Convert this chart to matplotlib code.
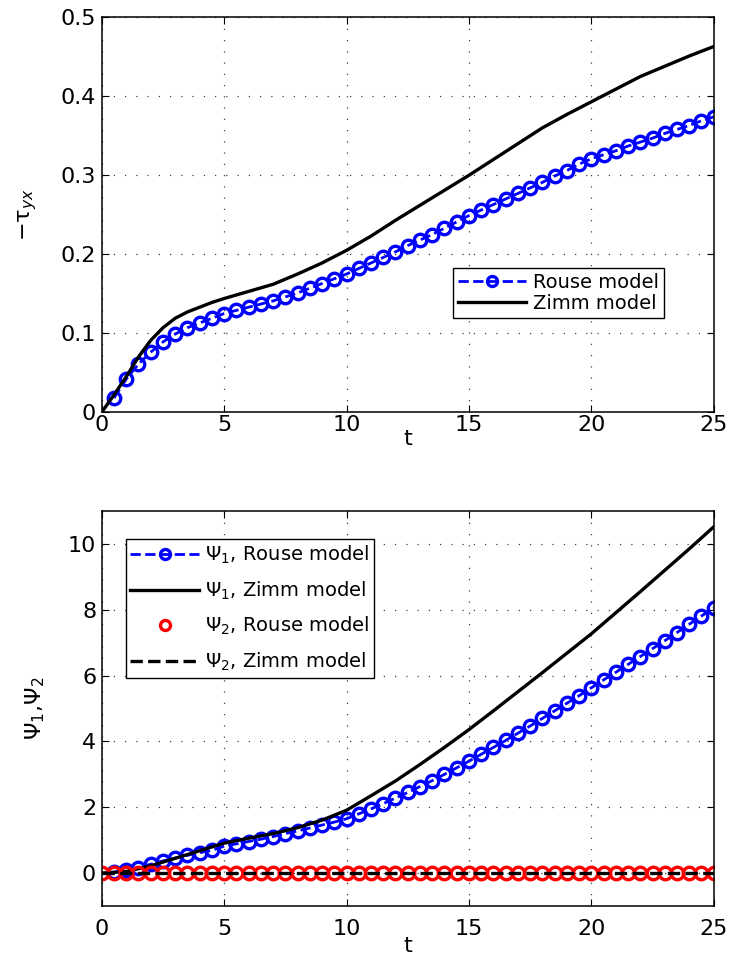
import matplotlib
matplotlib.use('Agg')
import matplotlib.pyplot as plt
from matplotlib.ticker import FormatStrFormatter

plt.rcParams['font.family'] = ['DejaVu Sans']
plt.rcParams['mathtext.fontset'] = 'dejavusans'

# shear stress, Rouse (markers every 0.5)
t_rouse = [0.5, 1.0, 1.5, 2.0, 2.5, 3.0, 3.5, 4.0, 4.5, 5.0,
           5.5, 6.0, 6.5, 7.0, 7.5, 8.0, 8.5, 9.0, 9.5, 10.0,
           10.5, 11.0, 11.5, 12.0, 12.5, 13.0, 13.5, 14.0, 14.5, 15.0,
           15.5, 16.0, 16.5, 17.0, 17.5, 18.0, 18.5, 19.0, 19.5, 20.0,
           20.5, 21.0, 21.5, 22.0, 22.5, 23.0, 23.5, 24.0, 24.5, 25.0]
tau_rouse = [0.018, 0.042, 0.061, 0.076, 0.089, 0.099, 0.107, 0.113, 0.119, 0.125,
             0.129, 0.133, 0.137, 0.141, 0.146, 0.151, 0.157, 0.163, 0.169, 0.175,
             0.182, 0.189, 0.196, 0.203, 0.211, 0.218, 0.225, 0.233, 0.241, 0.249,
             0.256, 0.263, 0.270, 0.277, 0.284, 0.291, 0.299, 0.306, 0.314, 0.321,
             0.326, 0.331, 0.337, 0.342, 0.347, 0.353, 0.358, 0.363, 0.369, 0.374]

# shear stress, Zimm
t_zimm = [0, 0.5, 1, 1.5, 2, 2.5, 3, 3.5, 4, 4.5, 5, 6, 7, 8, 9, 10,
          11, 12, 13, 14, 15, 16, 17, 18, 19, 20, 21, 22, 23, 24, 25]
tau_zimm = [0.0, 0.022, 0.045, 0.070, 0.091, 0.107, 0.119, 0.127, 0.133, 0.139,
            0.144, 0.153, 0.162, 0.175, 0.189, 0.205, 0.223, 0.243, 0.262, 0.281,
            0.300, 0.320, 0.340, 0.360, 0.377, 0.393, 0.409, 0.425, 0.438, 0.451, 0.463]

# normal stress coefficients
psi1_rouse = [0.03, 0.08, 0.17, 0.27, 0.37, 0.46, 0.54, 0.62, 0.69, 0.82,
              0.89, 0.96, 1.03, 1.11, 1.20, 1.28, 1.37, 1.46, 1.55, 1.65,
              1.80, 1.95, 2.11, 2.28, 2.45, 2.63, 2.81, 3.00, 3.20, 3.40,
              3.61, 3.82, 4.03, 4.25, 4.47, 4.70, 4.93, 5.16, 5.39, 5.63,
              5.87, 6.10, 6.34, 6.58, 6.82, 7.06, 7.31, 7.56, 7.81, 8.06]

t_psi_zimm = [0, 1, 2, 3, 4, 5, 6, 7, 8, 9, 10, 11, 12, 13, 14, 15,
              16, 17, 18, 19, 20, 21, 22, 23, 24, 25]
psi1_zimm = [0.0, 0.05, 0.22, 0.45, 0.68, 0.91, 1.06, 1.20, 1.38, 1.61, 1.91,
             2.35, 2.80, 3.30, 3.82, 4.36, 4.93, 5.51, 6.09, 6.68, 7.27,
             7.91, 8.55, 9.20, 9.85, 10.52]

t_psi2 = [0.0, 0.5, 1.0, 1.5, 2.0, 2.5, 3.0, 3.5, 4.0, 4.5, 5.0,
          5.5, 6.0, 6.5, 7.0, 7.5, 8.0, 8.5, 9.0, 9.5, 10.0,
          10.5, 11.0, 11.5, 12.0, 12.5, 13.0, 13.5, 14.0, 14.5, 15.0,
          15.5, 16.0, 16.5, 17.0, 17.5, 18.0, 18.5, 19.0, 19.5, 20.0,
          20.5, 21.0, 21.5, 22.0, 22.5, 23.0, 23.5, 24.0, 24.5, 25.0]
psi2_rouse = [0, 0, 0, 0, 0, 0, 0, 0, 0, 0, 0,
              0, 0, 0, 0, 0, 0, 0, 0, 0, 0,
              0, 0, 0, 0, 0, 0, 0, 0, 0, 0,
              0, 0, 0, 0, 0, 0, 0, 0, 0, 0,
              0, 0, 0, 0, 0, 0, 0, 0, 0, 0]
psi2_zimm = [0, 0, 0, 0, 0, 0, 0, 0, 0, 0,
             0, 0, 0, 0, 0, 0, 0, 0, 0, 0,
             0, 0, 0, 0, 0, 0]

fig = plt.figure(figsize=(7.32, 9.61), dpi=100)
ax1 = fig.add_axes([0.139, 0.571, 0.836, 0.411])
ax2 = fig.add_axes([0.139, 0.0572, 0.836, 0.411])

mk = dict(marker='o', markersize=9, markerfacecolor='none', markeredgewidth=2.4)
leg = dict(loc='upper left', borderaxespad=0, fontsize=14, fancybox=False,
           edgecolor='black', framealpha=1, handlelength=3.5, handletextpad=0.35,
           borderpad=0.25, markerscale=0.8)

ax1.plot(t_rouse, tau_rouse, '--', color='blue', lw=2, markeredgecolor='blue',
         label='Rouse model', **mk)
ax1.plot(t_zimm, tau_zimm, '-', color='black', lw=2.4, label='Zimm model')
ax1.set_xlim(0, 25)
ax1.set_ylim(0, 0.5)
ax1.set_yticks([0, 0.1, 0.2, 0.3, 0.4, 0.5])
ax1.yaxis.set_major_formatter(FormatStrFormatter('%g'))
ax1.set_xlabel('t', fontsize=16)
ax1.set_ylabel('−τ$_{yx}$', fontsize=16)
ax1.xaxis.set_label_coords(0.5, -0.042)
ax1.yaxis.set_label_coords(-0.103, 0.5)
ax1.tick_params(axis='x', pad=2)
ax1.legend(bbox_to_anchor=(0.574, 0.365), labelspacing=0.1, **leg)

ax2.plot(t_rouse, psi1_rouse, '--', color='blue', lw=2, markeredgecolor='blue',
         label='Ψ$_1$, Rouse model', **mk)
ax2.plot(t_psi_zimm, psi1_zimm, '-', color='black', lw=2.4, label='Ψ$_1$, Zimm model')
ax2.plot(t_psi2, psi2_rouse, linestyle='none', markeredgecolor='red',
         label='Ψ$_2$, Rouse model', **mk)
ax2.plot(t_psi_zimm, psi2_zimm, '--', color='black', lw=2.4, label='Ψ$_2$, Zimm model')
ax2.set_xlim(0, 25)
ax2.set_ylim(-1, 11)
ax2.set_yticks([0, 2, 4, 6, 8, 10])
ax2.set_xlabel('t', fontsize=16)
ax2.set_ylabel('Ψ$_1$,Ψ$_2$', fontsize=16)
ax2.xaxis.set_label_coords(0.5, -0.077)
ax2.yaxis.set_label_coords(-0.09, 0.5)
ax2.tick_params(axis='x', pad=9)
ax2.legend(bbox_to_anchor=(0.039, 0.929), labelspacing=0.68, **leg)

for ax in (ax1, ax2):
    ax.set_xticks([0, 5, 10, 15, 20, 25])
    ax.tick_params(direction='in', top=True, right=True, labelsize=16, length=5, width=0.8)
    ax.tick_params(axis='y', pad=4)
    ax.grid(True, linestyle=(0, (1, 8)), color='0.25', lw=0.9)
    for s in ax.spines.values():
        s.set_linewidth(1.1)

fig.savefig('out.png', dpi=100)
